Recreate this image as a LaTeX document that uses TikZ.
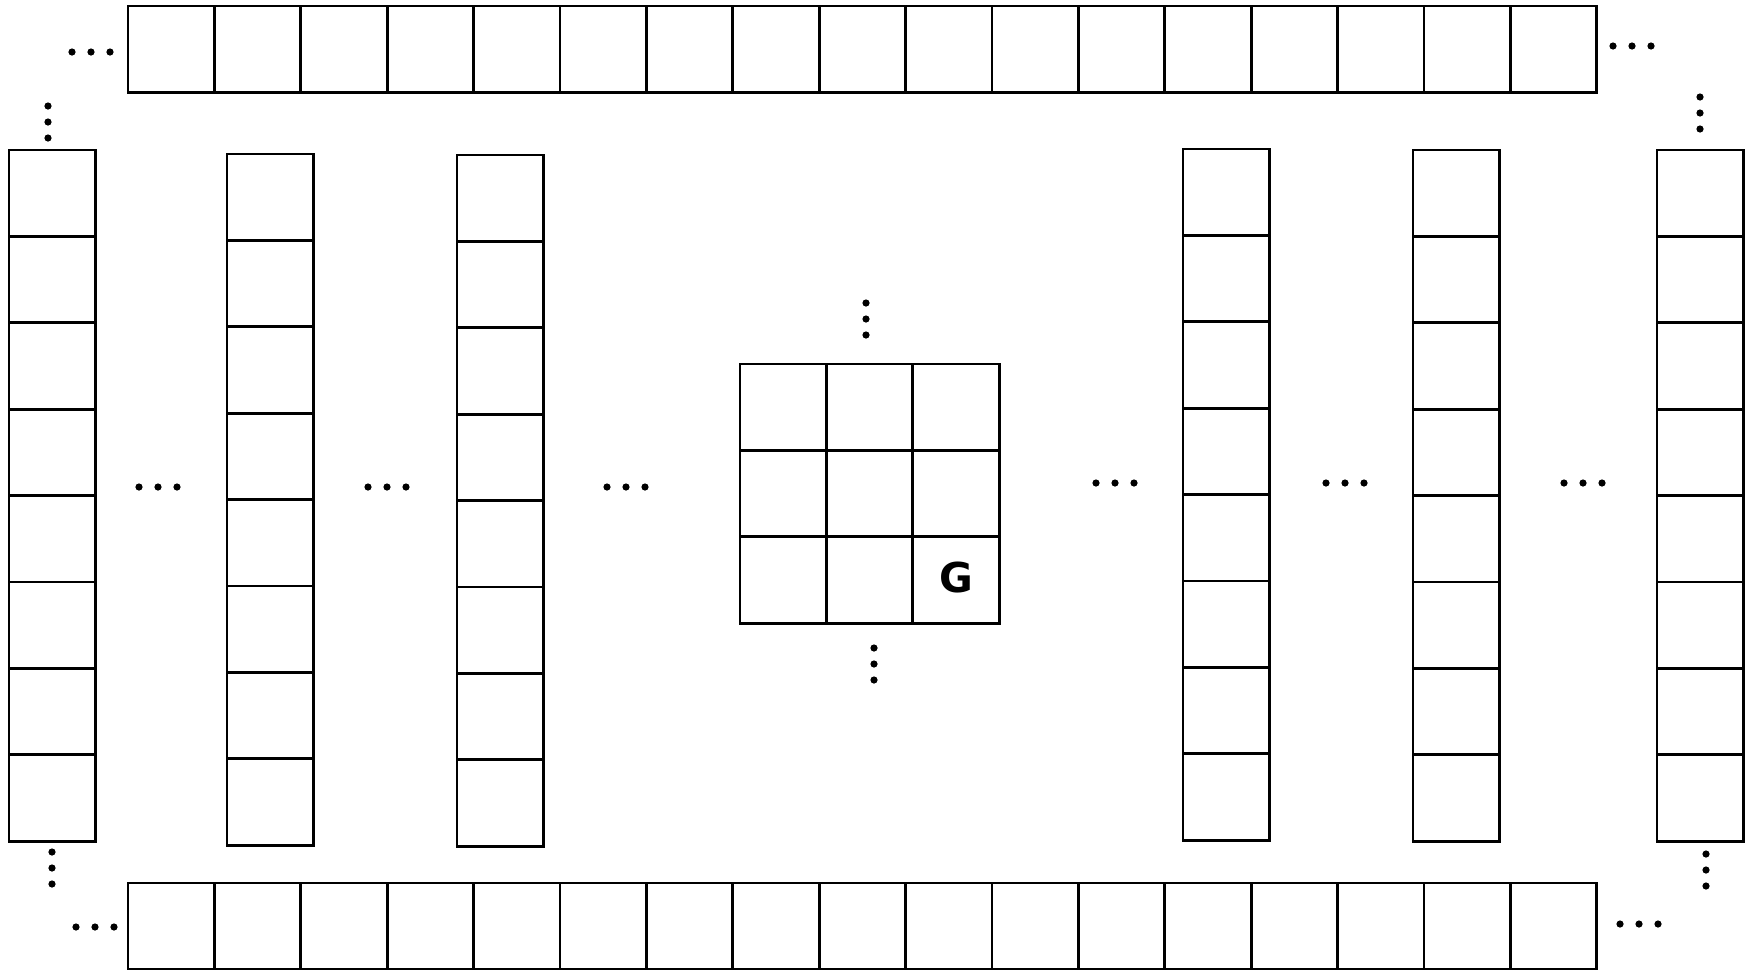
\documentclass[tikz,border=0pt]{standalone}
\usepackage{fontspec}
\setmainfont{DejaVu Sans}
\usepackage{tikz}

\tikzset{
  cell/.style={draw, line width=0.8pt, minimum size=0.864cm, inner sep=0pt, outer sep=0pt},
  goal/.style={font=\bfseries\fontsize{11.7}{14}\selectfont}
}

\begin{document}
\begin{tikzpicture}[x=0.01cm, y=-0.01cm]
  \useasboundingbox (0,0) rectangle (1754,969);
  % long rows at the top and at the bottom
  \foreach \i in {0,...,16} {
    \node[cell] (top\i) at (171.2+86.4*\i,49.2) {};
    \node[cell] (bot\i) at (171.2+86.4*\i,926.2) {};
  }
  % the six tall columns
  \foreach \cx/\ty [count=\c] in {52.2/150, 270.2/154, 500.2/155, 1226.2/149, 1456.2/150, 1700.2/150}
    \foreach \j in {0,...,7}
      \node[cell] (col\c-\j) at (\cx,\ty+43.2+86.4*\j) {};
  % the 3x3 patch in the middle
  \foreach \i in {0,1,2}
    \foreach \j in {0,1,2}
      \node[cell] (g\i\j) at (783.2+86.4*\i,407.2+86.4*\j) {};
  \node[goal] (G) at ([yshift=0.02cm]g22.center) {G};
  % horizontal ellipses
  \foreach \x/\y in {72/52, 1613/46, 76/927, 1620/924, 139/487, 368/487, 607/487, 1096/483, 1326/483, 1564/483}
    \foreach \k in {0,1,2}
      \fill (\x+19*\k,\y) circle (0.036cm);
  % vertical ellipses
  \foreach \x/\y in {48/106, 1700/97, 52/852, 1706/854, 866/303, 874/648}
    \foreach \k in {0,1,2}
      \fill (\x,\y+16*\k) circle (0.036cm);
\end{tikzpicture}
\end{document}
